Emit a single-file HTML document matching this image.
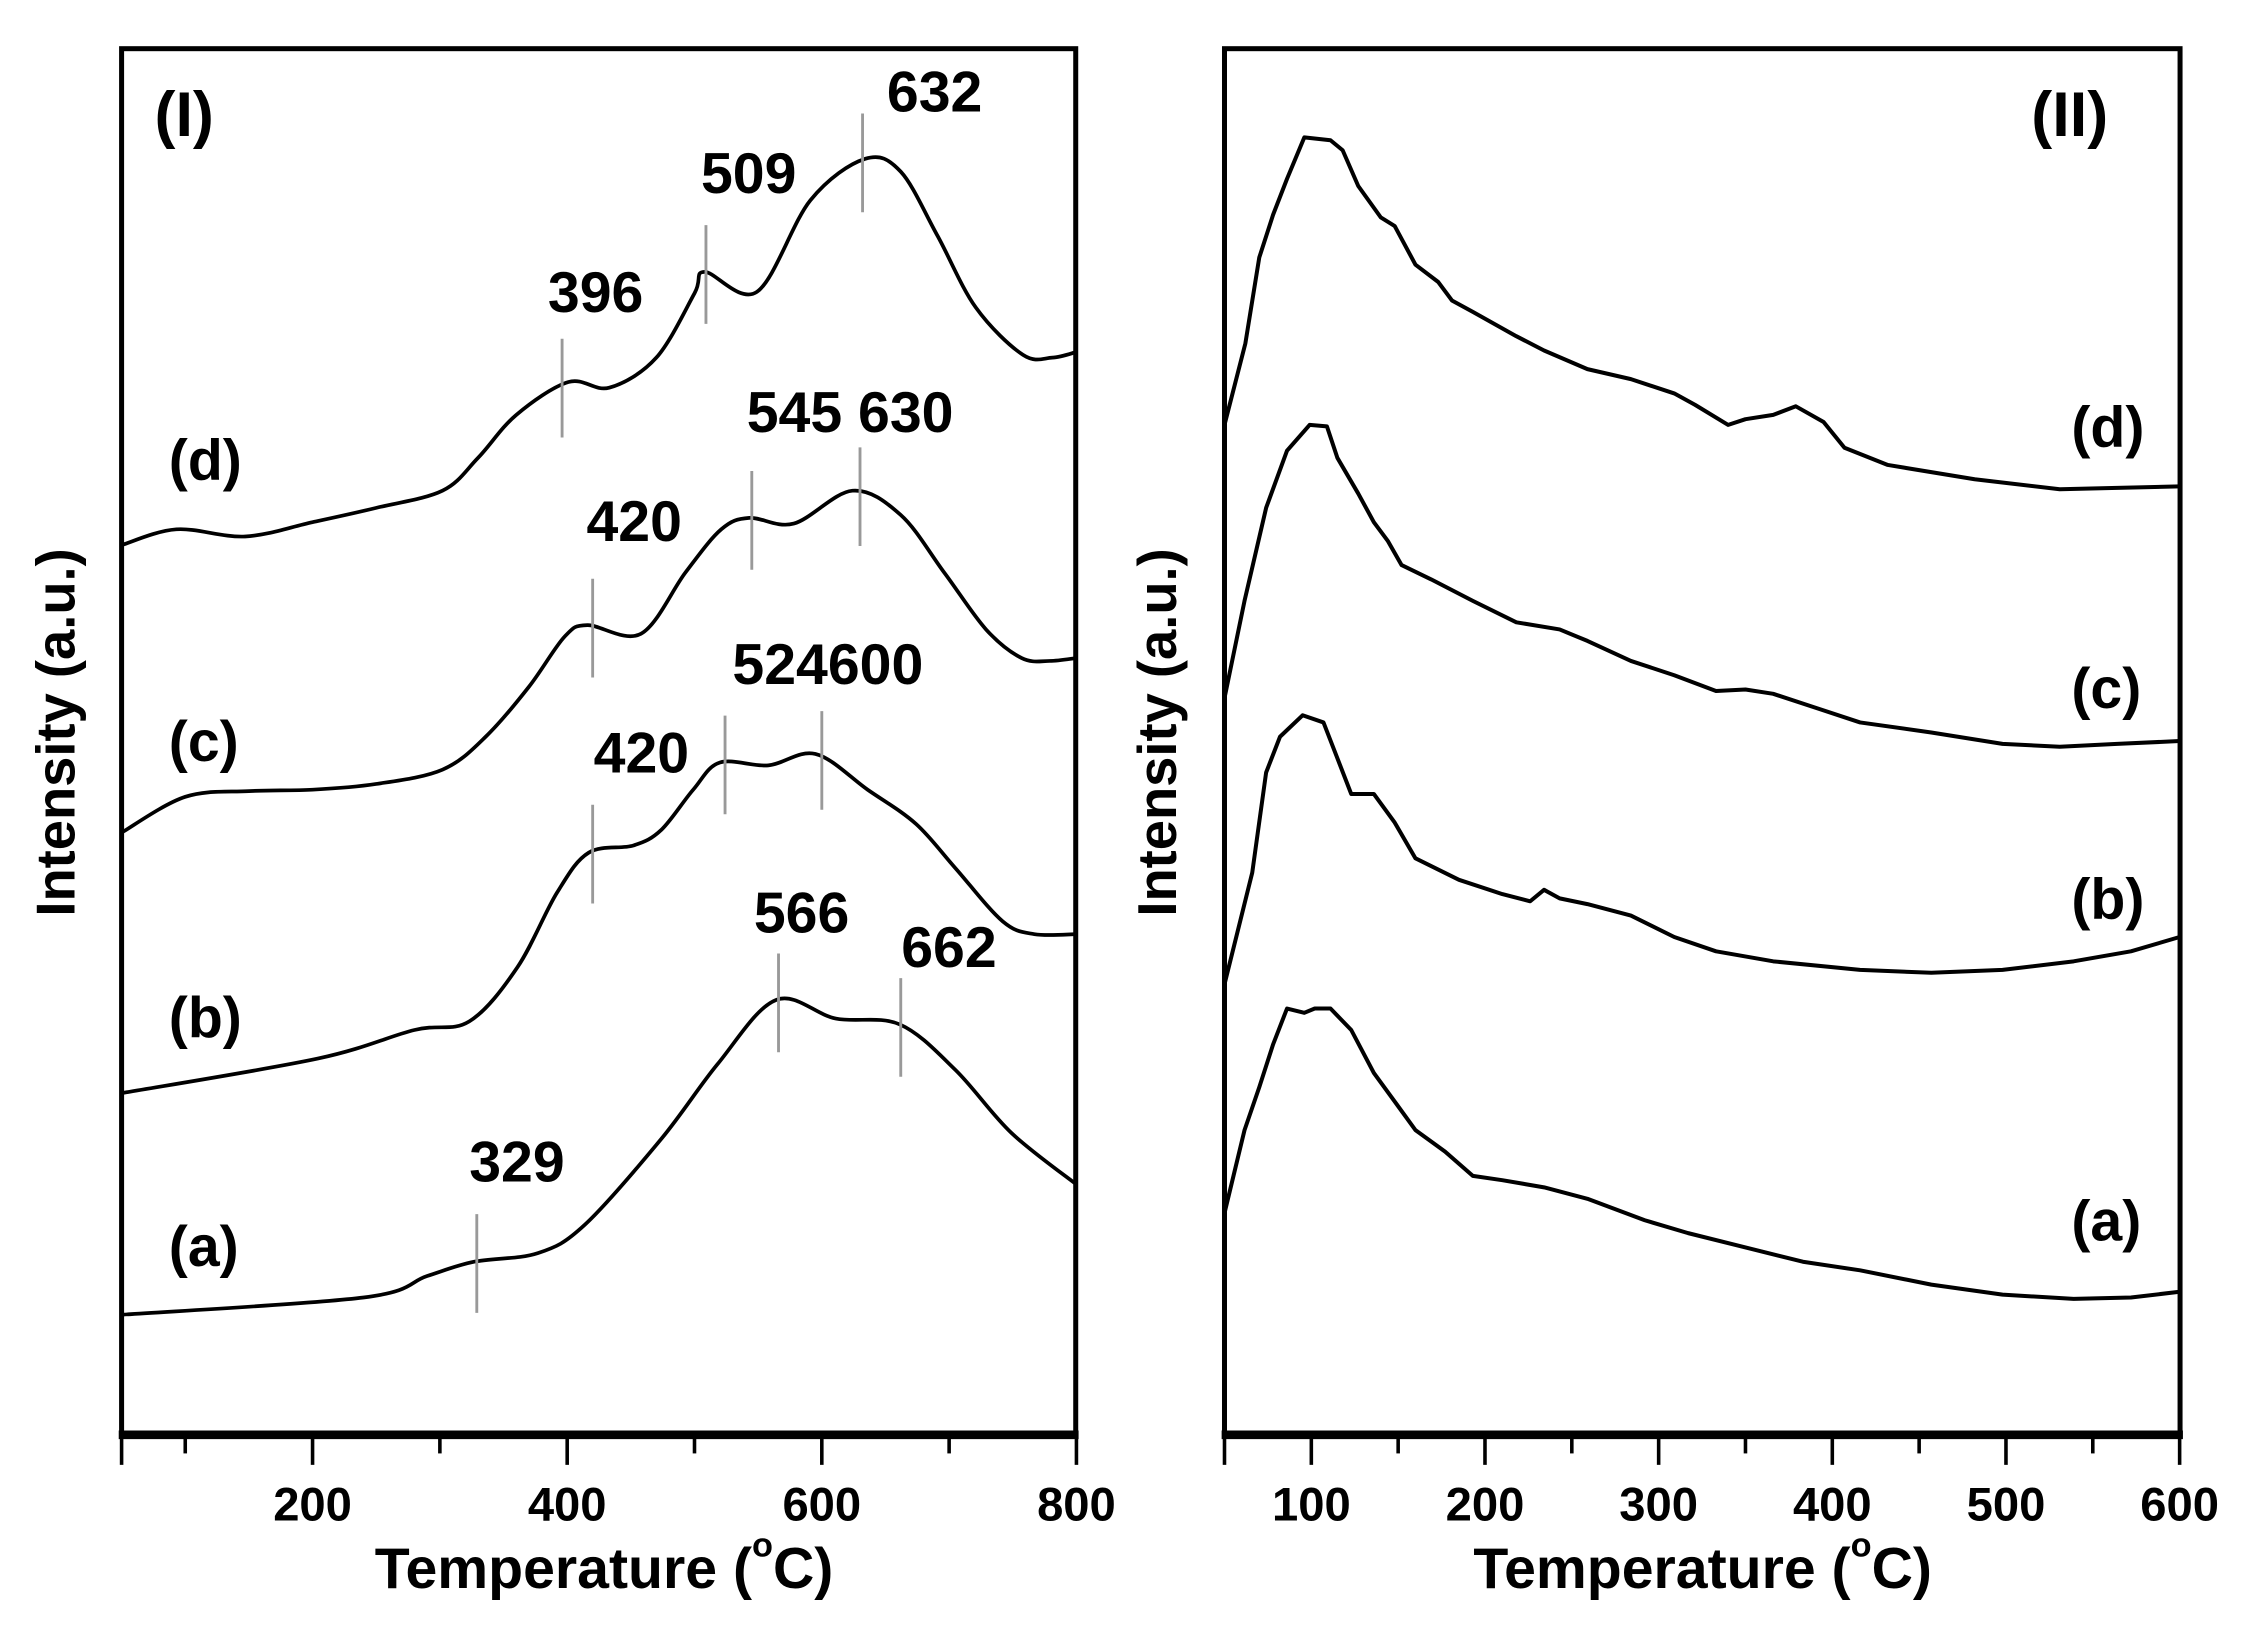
<!DOCTYPE html>
<html><head><meta charset="utf-8">
<style>
html,body{margin:0;padding:0;background:#fff;}
svg{display:block;}
text{font-family:"Liberation Sans",Arial,sans-serif;font-weight:bold;fill:#000;}
</style></head>
<body>
<svg id="chart" xmlns="http://www.w3.org/2000/svg" width="2243" height="1638" viewBox="0 0 1568 1145">
<rect x="0" y="0" width="1568" height="1145" fill="#fff"/>
<g id="panelL"></g>
<g id="panelR"></g>
</svg>
<script>
// ---- Panel I data (temperature °C, intensity a.u.) ----
const lT_a = [51,240,290,327,377,414,474,518,564,611,661,705,749,800];
const lI_a = [8.4,9.6,11.1,12.1,12.7,14.7,20.7,25.9,30.4,29.1,28.7,25.5,21.1,17.5];
const lT_b = [51,204,280,323,361,392,417,452,474,499,520,558,595,636,674,705,742,767,800];
const lI_b = [23.9,26.3,28.3,28.9,32.7,37.9,40.7,41.2,42.3,45.1,47.0,46.8,47.6,45.1,42.7,39.6,35.9,35.0,35.0];
const lT_c = [50,100,150,200,250,302,336,370,398,416,458,493,521,543,578,624,662,696,729,757,779,800];
const lI_c = [42.1,44.6,45.0,45.1,45.5,46.5,48.8,52.3,55.8,56.6,56.0,60.3,63.3,64.1,63.7,66.0,64.3,60.3,56.3,54.3,54.1,54.3];
const lT_d = [50,93,147,200,250,302,330,360,401,433,470,500,508,549,591,634,662,691,721,758,781,800];
const lI_d = [62.2,63.3,62.8,63.8,64.8,66.0,68.3,71.3,73.6,73.2,75.3,79.8,81.3,79.9,86.3,89.2,88.3,83.8,78.8,75.5,75.3,75.7];
// peak markers: temperature and which curve
const peakT = [329,566,662,420,524,600,420,545,630,396,509,632];
const peakCurve = ['a','a','a','b','b','b','c','c','c','d','d','d'];

// ---- Panel II data ----
const rT_a = [50,61.5,70,78,86,96,102,111,123,136,148,160,177,193,210,234,259,292,317,350,383,416,457,498,539,572,600];
const rI_a = [15.5,21.3,24.3,27.3,29.8,29.5,29.8,29.8,28.3,25.3,23.3,21.3,19.8,18.1,17.8,17.3,16.5,15.0,14.1,13.1,12.1,11.5,10.5,9.8,9.5,9.6,10.0];
const rT_b = [50,66,74,82,95,107,115,123,136,148,160,185,210,226,234,243,259,284,309,333,366,416,457,498,539,572,600];
const rI_b = [31.5,39.3,46.3,48.8,50.3,49.8,47.3,44.8,44.8,42.8,40.3,38.8,37.8,37.3,38.1,37.5,37.1,36.3,34.8,33.8,33.1,32.5,32.3,32.5,33.1,33.8,34.8];
const rT_c = [50,61.5,74,86,99,109,115,127,136,144,152,169,193,218,243,259,284,309,333,350,366,391,416,457,498,531,564,600];
const rI_c = [51.5,58.3,64.8,68.8,70.6,70.5,68.3,65.8,63.8,62.5,60.8,59.8,58.3,56.8,56.3,55.5,54.1,53.1,52.0,52.1,51.8,50.8,49.8,49.1,48.3,48.1,48.3,48.5];
const rT_d = [50,62,70,78,86,96,111,118,127,140,148,160,173,181,193,218,234,259,284,309,321,340,350,366,379,395,407,432,482,531,564,600];
const rI_d = [70.6,76.3,82.3,85.3,87.8,90.7,90.5,89.8,87.3,85.1,84.5,81.8,80.6,79.3,78.5,76.8,75.8,74.5,73.8,72.8,72.0,70.6,71.0,71.3,71.9,70.8,69.0,67.8,66.8,66.1,66.2,66.3];

const xTicksL = [200,400,600,800];
const xMinorL = [100,300,500,700];
const xTicksR = [100,200,300,400,500,600];
const xMinorR = [150,250,350,450,550];

const NS = "http://www.w3.org/2000/svg";
function mk(tag, attrs, parent){
  const e = document.createElementNS(NS, tag);
  for (const k in attrs) e.setAttribute(k, attrs[k]);
  parent.appendChild(e);
  return e;
}
const TOP = 34, BOT = 1003;
function yS(I){ return BOT - I*10; }
const xL = t => 85 + (t-50)*0.89;
const xR = t => 856 + (t-50)*1.214;

function smoothPath(xs, ys){
  let d = "M" + xs[0].toFixed(1) + "," + ys[0].toFixed(1);
  for (let i=0;i<xs.length-1;i++){
    const x0 = xs[Math.max(i-1,0)], y0 = ys[Math.max(i-1,0)];
    const x1 = xs[i], y1 = ys[i], x2 = xs[i+1], y2 = ys[i+1];
    const x3 = xs[Math.min(i+2,xs.length-1)], y3 = ys[Math.min(i+2,xs.length-1)];
    const c1x = x1 + (x2-x0)/6, c1y = y1 + (y2-y0)/6;
    const c2x = x2 - (x3-x1)/6, c2y = y2 - (y3-y1)/6;
    d += " C"+c1x.toFixed(1)+","+c1y.toFixed(1)+" "+c2x.toFixed(1)+","+c2y.toFixed(1)+" "+x2.toFixed(1)+","+y2.toFixed(1);
  }
  return d;
}
function linePath(xs, ys){
  return xs.map((x,i)=>(i?"L":"M")+x.toFixed(1)+","+ys[i].toFixed(1)).join(" ");
}
function interp(T, I, t){
  for (let i=0;i<T.length-1;i++){
    if (t>=T[i] && t<=T[i+1]) return I[i] + (I[i+1]-I[i])*(t-T[i])/(T[i+1]-T[i]);
  }
  return I[I.length-1];
}

function axes(g, x0, x1, xs, major, minor, prefix){
  const f = mk('rect',{x:x0,y:TOP,width:x1-x0,height:BOT-TOP,fill:'none',stroke:'#000','stroke-width':3.5},g);
  
  
  const bl = mk('line',{x1:x0-2,y1:BOT,x2:x1+2,y2:BOT,stroke:'#000','stroke-width':6},g);
  
  
  major.forEach(t=>{
    const tk = mk('line',{x1:xs(t),y1:BOT,x2:xs(t),y2:BOT+21,stroke:'#000','stroke-width':2.5},g);
    
    
    const tl = mk('text',{x:xs(t),y:1063,'text-anchor':'middle','font-size':33},g);
    tl.textContent = t;
    
    
  });
  minor.forEach(t=>{
    const tk = mk('line',{x1:xs(t),y1:BOT,x2:xs(t),y2:BOT+13,stroke:'#000','stroke-width':2.5},g);
    
    
  });
  const lt = mk('line',{x1:x0,y1:BOT,x2:x0,y2:BOT+21,stroke:'#000','stroke-width':2.5},g);
  
  
}
function txt(g, s, x, y, size, name, extra){
  const t = mk('text',Object.assign({x:x,y:y,'font-size':size},extra||{}),g);
  t.textContent = s;
  
  
  return t;
}
function tempTitle(g, x, name){
  const t = mk('text',{x:x,y:1110,'font-size':40},g);
  
  
  const s1 = mk('tspan',{},t); s1.textContent = 'Temperature (';
  const s2 = mk('tspan',{dy:-22,'font-size':24}, t); s2.textContent = 'o';
  const s3 = mk('tspan',{dy:22,'font-size':40}, t); s3.textContent = 'C)';
}

// ===== Panel I =====
const gL = document.getElementById('panelL');
axes(gL, 85, 752, xL, xTicksL, xMinorL, 'panel-i');
const curvesL = {a:[lT_a,lI_a], b:[lT_b,lI_b], c:[lT_c,lI_c], d:[lT_d,lI_d]};
for (const k in curvesL){
  const [T,I] = curvesL[k];
  const p = mk('path',{d:smoothPath(T.map(xL), I.map(yS)),fill:'none',stroke:'#000','stroke-width':2.6},gL);
  
  
}
peakT.forEach((t,i)=>{
  const [T,I] = curvesL[peakCurve[i]];
  const yc = yS(interp(T,I,t));
  const m = mk('line',{x1:xL(t),y1:yc-33,x2:xL(t),y2:yc+36,stroke:'#999','stroke-width':2},gL);
  
  
});
txt(gL,'(I)',108,95,44,'panel-i-label');
txt(gL,'(d)',118,335,40,'curve-label-d');
txt(gL,'(c)',118,532,40,'curve-label-c');
txt(gL,'(b)',118,725,40,'curve-label-b');
txt(gL,'(a)',118,885,40,'curve-label-a');
txt(gL,'632',620,78,40,'peak-label-632');
txt(gL,'509',490,135,40,'peak-label-509');
txt(gL,'396',383,218,40,'peak-label-396');
txt(gL,'545 630',522,302,40,'peak-label-545-630');
txt(gL,'420',410,378,40,'peak-label-420-c');
txt(gL,'524600',512,478,40,'peak-label-524-600');
txt(gL,'420',415,540,40,'peak-label-420-b');
txt(gL,'566',527,652,40,'peak-label-566');
txt(gL,'662',630,676,40,'peak-label-662');
txt(gL,'329',328,826,40,'peak-label-329');
tempTitle(gL, 262, 'panel-i-x-axis-title');
txt(gL,'Intensity (a.u.)',0,0,38,'panel-i-y-axis-title',{transform:'translate(52,512) rotate(-90)','text-anchor':'middle'});

// ===== Panel II =====
const gR = document.getElementById('panelR');
axes(gR, 856, 1524, xR, xTicksR, xMinorR, 'panel-ii');
const curvesR = {a:[rT_a,rI_a], b:[rT_b,rI_b], c:[rT_c,rI_c], d:[rT_d,rI_d]};
for (const k in curvesR){
  const [T,I] = curvesR[k];
  const p = mk('path',{d:linePath(T.map(xR), I.map(yS)),fill:'none',stroke:'#000','stroke-width':2.8,'stroke-linejoin':'round'},gR);
  
  
}
txt(gR,'(II)',1420,95,44,'panel-ii-label');
txt(gR,'(d)',1448,312,40,'panel-ii-curve-label-d');
txt(gR,'(c)',1448,495,40,'panel-ii-curve-label-c');
txt(gR,'(b)',1448,642,40,'panel-ii-curve-label-b');
txt(gR,'(a)',1448,867,40,'panel-ii-curve-label-a');
tempTitle(gR, 1030, 'panel-ii-x-axis-title');
txt(gR,'Intensity (a.u.)',0,0,38,'panel-ii-y-axis-title',{transform:'translate(822,512) rotate(-90)','text-anchor':'middle'});
</script>
</body></html>
